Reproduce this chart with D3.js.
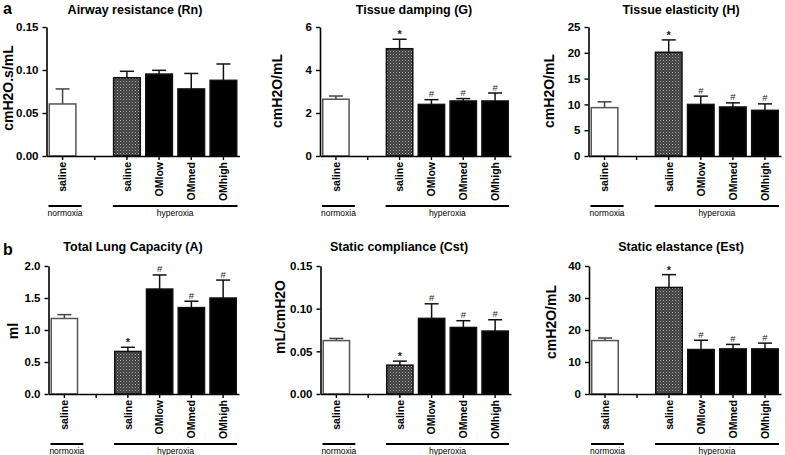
<!DOCTYPE html>
<html><head><meta charset="utf-8">
<script src="https://cdn.jsdelivr.net/npm/d3@7"></script>
<style>
html,body{margin:0;padding:0;background:#fff;}
text{font-family:"Liberation Sans",Arial,sans-serif;}
</style></head>
<body><svg id="c" width="785" height="455"></svg>
<script>
// ---- data ----
const slots = ["normSaline","gap","hypSaline","OMlow","OMmed","OMhigh"];
const slotLabels = ["saline","","saline","OMlow","OMmed","OMhigh"];
const barSlots = ["normSaline","hypSaline","OMlow","OMmed","OMhigh"];
const barKinds = ["white","hatch","black","black","black"];

const titles = ["Airway resistance (Rn)","Tissue damping (G)","Tissue elasticity (H)",
                "Total Lung Capacity (A)","Static compliance (Cst)","Static elastance (Est)"];
const yTitles = ["cmH2O.s/mL","cmH2O/mL","cmH2O/mL","ml","mL/cmH2O","cmH2O/mL"];

const rnMean = [0.0605,0.091,0.0953,0.078,0.088];
const rnSem  = [0.0175,0.0075,0.0043,0.018,0.019];
const gMean  = [2.64,4.99,2.40,2.56,2.56];
const gSem   = [0.15,0.44,0.22,0.11,0.37];
const hMean  = [9.37,20.1,10.0,9.5,8.85];
const hSem   = [1.13,2.4,1.6,0.8,1.25];
const aMean  = [1.18,0.665,1.64,1.35,1.50];
const aSem   = [0.06,0.065,0.22,0.10,0.28];
const cstMean= [0.0626,0.0338,0.0886,0.078,0.0738];
const cstSem = [0.0025,0.0047,0.0171,0.0079,0.0132];
const estMean= [16.7,33.3,13.9,14.1,14.1];
const estSem = [0.8,4.0,2.9,1.4,1.8];

const marksNone = ["","","","",""];
const marksSig  = ["","*","#","#","#"];

const ticks01 = [0,0.05,0.10,0.15];
const ticksG  = [0,2,4,6];
const ticksH  = [0,5,10,15,20,25];
const ticksA  = [0,0.5,1.0,1.5,2.0];
const ticksEst= [0,10,20,30,40];

const groupNames = ["normoxia","hyperoxia"];

// ---- layout ----
const panels = [
  {title:titles[0], ylab:yTitles[0], mean:rnMean, sem:rnSem, marks:marksNone, ticks:ticks01, fmt:".2f",
   x0:46.5, x1:239.5, yTop:27, yBot:156, tx:135, ty:14, lx:8, ly:88},
  {title:titles[1], ylab:yTitles[1], mean:gMean, sem:gSem, marks:marksSig, ticks:ticksG, fmt:"d",
   x0:320, x1:511, yTop:27, yBot:156, tx:414, ty:14, lx:277, ly:91},
  {title:titles[2], ylab:yTitles[2], mean:hMean, sem:hSem, marks:marksSig, ticks:ticksH, fmt:"d",
   x0:588.5, x1:781, yTop:27, yBot:156, tx:681, ty:14, lx:549, ly:91},
  {title:titles[3], ylab:yTitles[3], mean:aMean, sem:aSem, marks:marksSig, ticks:ticksA, fmt:".1f",
   x0:48.5, x1:239, yTop:266, yBot:394, tx:133, ty:251, lx:12.5, ly:331},
  {title:titles[4], ylab:yTitles[4], mean:cstMean, sem:cstSem, marks:marksSig, ticks:ticks01, fmt:".2f",
   x0:320.5, x1:511, yTop:266, yBot:394, tx:399, ty:251, lx:280, ly:317},
  {title:titles[5], ylab:yTitles[5], mean:estMean, sem:estSem, marks:marksSig, ticks:ticksEst, fmt:"d",
   x0:589, x1:781, yTop:266, yBot:394, tx:681, ty:251, lx:551, ly:322}
];

const svg = d3.select("#c");
svg.append("rect").attr("width",785).attr("height",455).attr("fill","#fff");

const defs = svg.append("defs");
const pat = defs.append("pattern").attr("id","hatch").attr("patternUnits","userSpaceOnUse")
  .attr("width",3).attr("height",3);
pat.append("rect").attr("width",3).attr("height",3).attr("fill","#3c3c3c");
pat.append("rect").attr("x",0).attr("y",0).attr("width",1).attr("height",1).attr("fill","#b0b0b0");
pat.append("rect").attr("x",1.5).attr("y",1.5).attr("width",1).attr("height",1).attr("fill","#8a8a8a");

// panel letters
svg.append("text").attr("x",3).attr("y",14).attr("font-size",16).attr("font-weight","bold").text("a");
svg.append("text").attr("x",3).attr("y",255).attr("font-size",16).attr("font-weight","bold").text("b");

panels.forEach(p => {
  const g = svg.append("g");
  const x = d3.scaleBand().domain(slots).range([p.x0,p.x1]).paddingInner(0.125).paddingOuter(0.0625);
  const yMax = p.ticks[p.ticks.length-1];
  const y = d3.scaleLinear().domain([0,yMax]).range([p.yBot,p.yTop]);

  // title
  g.append("text").attr("x",p.tx).attr("y",p.ty).attr("text-anchor","middle")
    .attr("font-size",12.5).attr("font-weight","bold").text(p.title);
  // y title
  g.append("text").attr("transform",`translate(${p.lx},${p.ly}) rotate(-90)`)
    .attr("text-anchor","middle").attr("dominant-baseline","central")
    .attr("font-size",14).attr("font-weight","bold").text(p.ylab);

  // bars
  const data = barSlots.map((s,i)=>({slot:s, kind:barKinds[i], m:p.mean[i], e:p.sem[i], mark:p.marks[i]}));
  g.selectAll("rect.bar").data(data).enter().append("rect")
    .attr("x",d=>x(d.slot)+0.75).attr("width",x.bandwidth()-1.5)
    .attr("y",d=>y(d.m)).attr("height",d=>y(0)-y(d.m))
    .attr("fill",d=>d.kind==="white"?"#fff":d.kind==="hatch"?"url(#hatch)":"#000")
    .attr("stroke",d=>d.kind==="white"?"#555":"#111").attr("stroke-width",1.5);

  // error bars
  const capW = 14;
  data.forEach(d=>{
    const cx = x(d.slot)+x.bandwidth()/2;
    const col = d.kind==="white" ? "#444" : "#111";
    g.append("line").attr("x1",cx).attr("x2",cx).attr("y1",y(d.m)).attr("y2",y(d.m+d.e))
      .attr("stroke",col).attr("stroke-width",1.5);
    g.append("line").attr("x1",cx-capW/2).attr("x2",cx+capW/2).attr("y1",y(d.m+d.e)).attr("y2",y(d.m+d.e))
      .attr("stroke",col).attr("stroke-width",1.5);
    if (d.mark) {
      g.append("text").attr("x",cx).attr("y",y(d.m+d.e)-(d.mark==="*"?1:2.5)).attr("text-anchor","middle")
        .attr("font-size",d.mark==="*"?11:9.5).attr("font-weight",d.mark==="*"?"bold":"normal")
        .attr("fill","#222").text(d.mark);
    }
  });

  // axes
  const ya = g.append("g").attr("transform",`translate(${p.x0},0)`)
    .call(d3.axisLeft(y).tickValues(p.ticks).tickFormat(d3.format(p.fmt)).tickSize(4).tickSizeOuter(0).tickPadding(4));
  ya.select(".domain").attr("stroke","#000").attr("stroke-width",1.6);
  ya.selectAll(".tick line").attr("stroke","#000").attr("stroke-width",1.4);
  ya.selectAll(".tick text").attr("font-size",11.5).attr("font-weight","bold").attr("fill","#000")
    .attr("font-family","Liberation Sans, Arial, sans-serif");

  const xa = g.append("g").attr("transform",`translate(0,${p.yBot})`)
    .call(d3.axisBottom(x).tickSize(4).tickSizeOuter(0).tickFormat(""));
  xa.select(".domain").attr("stroke","#000").attr("stroke-width",1.6);
  xa.selectAll(".tick line").attr("stroke","#000").attr("stroke-width",1.4);

  // category labels
  slots.forEach((s,i)=>{
    if (!slotLabels[i]) return;
    const cx = x(s)+x.bandwidth()/2;
    g.append("text").attr("transform",`translate(${cx+3.8},${p.yBot+6}) rotate(-90)`)
      .attr("text-anchor","end").attr("fill","#000")
      .attr("font-size",10.5).attr("font-weight","bold").text(slotLabels[i]);
  });

  // group lines
  const lineY = p.yBot + 50;
  const nL = x("normSaline"), nR = x("normSaline")+x.bandwidth()+5;
  const hL = x("hypSaline"), hR = x("OMhigh")+x.bandwidth();
  g.append("line").attr("x1",nL).attr("x2",nR).attr("y1",lineY).attr("y2",lineY)
    .attr("stroke","#000").attr("stroke-width",2);
  g.append("line").attr("x1",hL).attr("x2",hR).attr("y1",lineY).attr("y2",lineY)
    .attr("stroke","#000").attr("stroke-width",2);
  g.append("text").attr("x",(nL+nR)/2).attr("y",lineY+9.5).attr("text-anchor","middle")
    .attr("font-size",8.5).text(groupNames[0]);
  g.append("text").attr("x",(hL+hR)/2).attr("y",lineY+9.5).attr("text-anchor","middle")
    .attr("font-size",8.5).text(groupNames[1]);
});
</script></body></html>
